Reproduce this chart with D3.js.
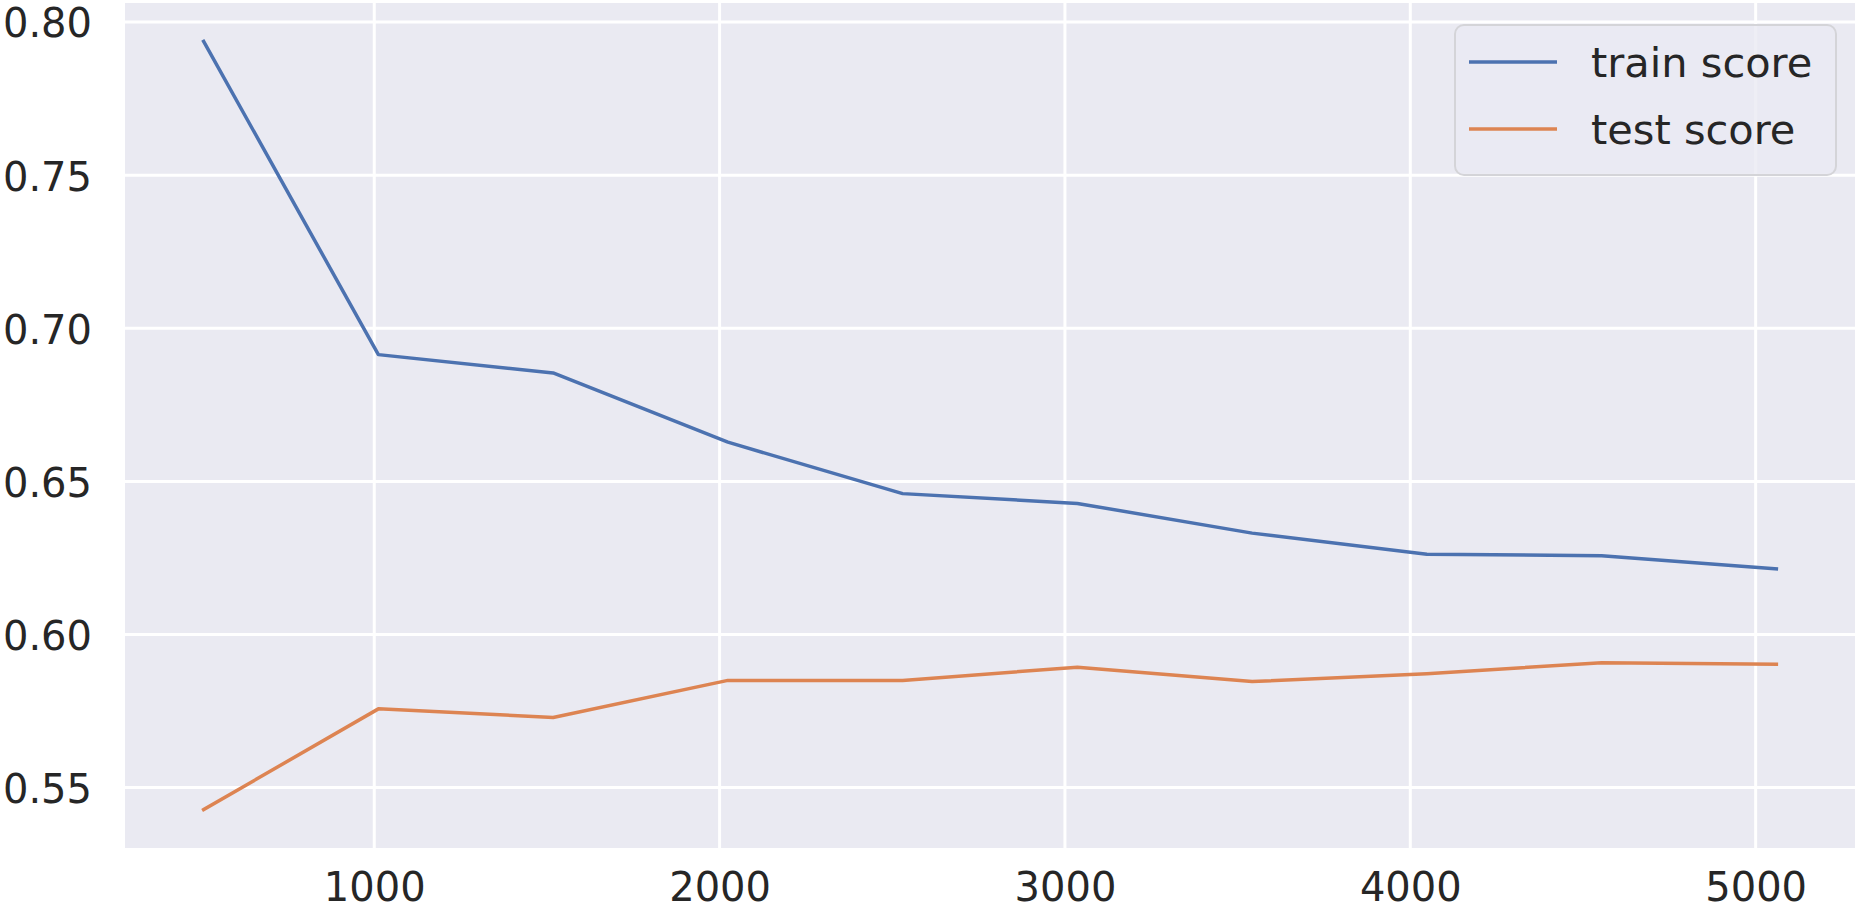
<!DOCTYPE html>
<html>
<head>
<meta charset="utf-8">
<script src="https://cdn.jsdelivr.net/npm/d3@7"></script>
<style>
  html, body { margin: 0; padding: 0; background: #ffffff; }
  svg { display: block; }
  text { font-family: "DejaVu Sans", sans-serif; fill: #262626; }
</style>
</head>
<body>
<svg id="chart" width="1864" height="912"></svg>
<script>
// ---- data ----
const trainSizes = [506, 1012, 1518, 2024, 2530, 3036, 3542, 4048, 4554, 5060];
const trainScores = [0.7937, 0.6914, 0.6854, 0.6628, 0.6460, 0.6428, 0.6331, 0.6262, 0.6257, 0.6214];
const testScores  = [0.5428, 0.5757, 0.5729, 0.5850, 0.5850, 0.5893, 0.5846, 0.5872, 0.5908, 0.5903];
const seriesNames = ["train score", "test score"];
const xTicks = [1000, 2000, 3000, 4000, 5000];
const yTicks = [0.55, 0.60, 0.65, 0.70, 0.75, 0.80];

// ---- layout ----
const W = 1864, H = 912;
const margin = { left: 125, right: 9, top: 3, bottom: 64 };
const colors = ["#4c72b0", "#dd8452"];

const svg = d3.select("#chart");
const innerW = W - margin.left - margin.right;
const innerH = H - margin.top - margin.bottom;

// matplotlib-style 5% margins
const xMin = d3.min(trainSizes), xMax = d3.max(trainSizes);
const xPad = (xMax - xMin) * 0.05;
const allY = trainScores.concat(testScores);
const yMin = d3.min(allY), yMax = d3.max(allY);
const yPad = (yMax - yMin) * 0.05;

const x = d3.scaleLinear().domain([xMin - xPad, xMax + xPad]).range([margin.left, margin.left + innerW]);
const y = d3.scaleLinear().domain([yMin - yPad, yMax + yPad]).range([margin.top + innerH, margin.top]);

// background
svg.append("rect")
  .attr("x", margin.left).attr("y", margin.top)
  .attr("width", innerW).attr("height", innerH)
  .attr("fill", "#eaeaf2");

// gridlines
const grid = svg.append("g");
grid.selectAll("line.gx").data(xTicks).enter().append("line")
  .attr("x1", d => x(d)).attr("x2", d => x(d))
  .attr("y1", margin.top).attr("y2", margin.top + innerH)
  .attr("stroke", "#ffffff").attr("stroke-width", 3);
grid.selectAll("line.gy").data(yTicks).enter().append("line")
  .attr("y1", d => y(d)).attr("y2", d => y(d))
  .attr("x1", margin.left).attr("x2", margin.left + innerW)
  .attr("stroke", "#ffffff").attr("stroke-width", 3);

// axes (labels only)
const xAxis = d3.axisBottom(x).tickValues(xTicks).tickFormat(d3.format("d")).tickSize(0).tickPadding(25);
const yAxis = d3.axisLeft(y).tickValues(yTicks).tickFormat(d3.format(".2f")).tickSize(0).tickPadding(33);

const gx = svg.append("g").attr("transform", `translate(0,${margin.top + innerH})`).call(xAxis);
const gy = svg.append("g").attr("transform", `translate(${margin.left},0)`).call(yAxis);
[gx, gy].forEach(g => {
  g.select(".domain").remove();
  g.selectAll("text").style("font-size", "40px").style("font-family", "DejaVu Sans, sans-serif").attr("fill", "#262626");
});
gy.selectAll("text").attr("dy", "0.37em");

// lines
const line = d3.line().x(d => x(d[0])).y(d => y(d[1]));
[trainScores, testScores].forEach((vals, i) => {
  svg.append("path")
    .datum(trainSizes.map((s, j) => [s, vals[j]]))
    .attr("d", line)
    .attr("fill", "none")
    .attr("stroke", colors[i])
    .attr("stroke-width", 3.5)
    .attr("stroke-linejoin", "round")
    .attr("stroke-linecap", "square");
});

// legend
const leg = svg.append("g");
const lx = 1455, ly = 25, lw = 381, lh = 150;
leg.append("rect")
  .attr("x", lx).attr("y", ly).attr("width", lw).attr("height", lh)
  .attr("rx", 9).attr("ry", 9)
  .attr("fill", "#eaeaf2").attr("fill-opacity", 0.8)
  .attr("stroke", "#d4d4d8").attr("stroke-width", 2);
seriesNames.forEach((name, i) => {
  const cy = ly + 37 + i * 67;
  leg.append("line")
    .attr("x1", lx + 14).attr("x2", lx + 102)
    .attr("y1", cy).attr("y2", cy)
    .attr("stroke", colors[i]).attr("stroke-width", 3.5);
  leg.append("text")
    .attr("x", lx + 136).attr("y", cy)
    .attr("dy", "0.35em")
    .style("font-size", "41.5px")
    .text(name);
});
</script>
</body>
</html>
